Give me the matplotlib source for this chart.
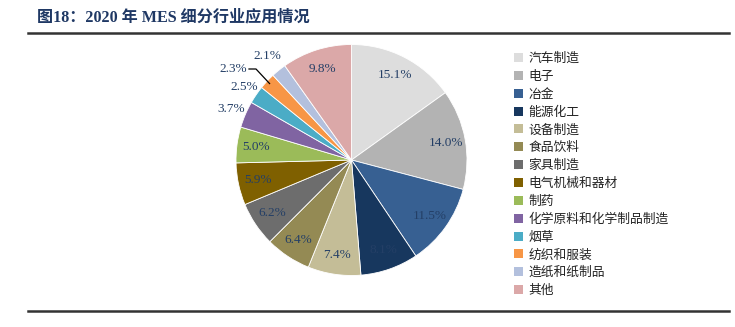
import numpy as np
import matplotlib
matplotlib.use("Agg")
import matplotlib.pyplot as plt
from matplotlib.patches import Patch

# Industry shares of MES applications in 2020 (%)
industries = ["汽车制造", "电子", "冶金", "能源化工", "设备制造", "食品饮料", "家具制造",
              "电气机械和器材", "制药", "化学原料和化学制品制造", "烟草", "纺织和服装",
              "造纸和纸制品", "其他"]
shares = [15.1, 14.0, 11.5, 8.1, 7.4, 6.4, 6.2, 5.9, 5.0, 3.7, 2.5, 2.3, 2.1, 9.8]
colors = ["#DDDDDD", "#B3B3B3", "#376092", "#17375E", "#C4BD97", "#948A54", "#6D6D6D",
          "#7F6000", "#9BBB59", "#8064A2", "#4BACC6", "#F79646", "#B3C0DD", "#DBA8A8"]
title = "图18：2020 年 MES 细分行业应用情况"

num_font = ["Liberation Serif", "Noto Sans CJK SC"]
cjk_font = ["Noto Sans CJK SC", "DejaVu Sans"]
label_color = "#243F66"

fig = plt.figure(figsize=(7.35, 3.27), dpi=100)

# Title and rules
fig.text(37 / 735, 1 - 17 / 327, title, family=num_font, fontweight="bold",
         fontsize=11.6, color="#1F3864", va="center", ha="left")
fig.add_artist(plt.Line2D([28 / 735, 729 / 735], [1 - 33 / 327] * 2,
                          color="#333333", lw=1.8, transform=fig.transFigure))
fig.add_artist(plt.Line2D([28 / 735, 729 / 735], [1 - 311 / 327] * 2,
                          color="#333333", lw=1.8, transform=fig.transFigure))

# Pie
cx, cy, r = 351.5, 160, 115.5
ax = fig.add_axes([(cx - r) / 735, (327 - cy - r) / 327, 2 * r / 735, 2 * r / 327])
wedges, _ = ax.pie(shares, colors=colors, startangle=90, counterclock=False,
                   radius=1.0, wedgeprops=dict(edgecolor="white", linewidth=0.6))
ax.set_xlim(-1, 1)
ax.set_ylim(-1, 1)
ax.set_aspect("equal")
ax.axis("off")

total = sum(shares)
cum = np.cumsum([0] + shares[:-1])
outside = {"化学原料和化学制品制造": 1.13, "烟草": 1.12, "造纸和纸制品": 1.16}
for name, v, c0 in zip(industries, shares, cum):
    mid = np.deg2rad(90 - (c0 + v / 2) / total * 360)
    txt = f"{v:.1f}%"
    if name == "纺织和服装":
        ex, ey = np.cos(mid), np.sin(mid)
        kx, ky = (256 - cx) / r, (cy - 69) / r
        hx = (249 - cx) / r
        ax.plot([ex * 0.97, kx, hx], [ey * 0.97, ky, ky], color="black", lw=0.9,
                clip_on=False)
        ax.text(hx - 0.02, ky, txt, ha="right", va="center", family=num_font,
                fontsize=9.5, color=label_color)
        continue
    d = outside.get(name, 0.83)
    ax.text(d * np.cos(mid), d * np.sin(mid), txt, ha="center", va="center",
            family=num_font, fontsize=9.5, color=label_color)

# Legend
handles = [Patch(facecolor=c, edgecolor="none") for c in colors]
leg = fig.legend(handles, industries, loc="upper left",
                 bbox_to_anchor=(514 / 735, 1 - 52 / 327), frameon=False,
                 prop=dict(family=cjk_font, size=9.2), handlelength=0.7,
                 handleheight=0.7, handletextpad=0.45, labelspacing=0.38,
                 borderaxespad=0, borderpad=0)
for t in leg.get_texts():
    t.set_color("#222222")

fig.savefig("out.png", dpi=100)
